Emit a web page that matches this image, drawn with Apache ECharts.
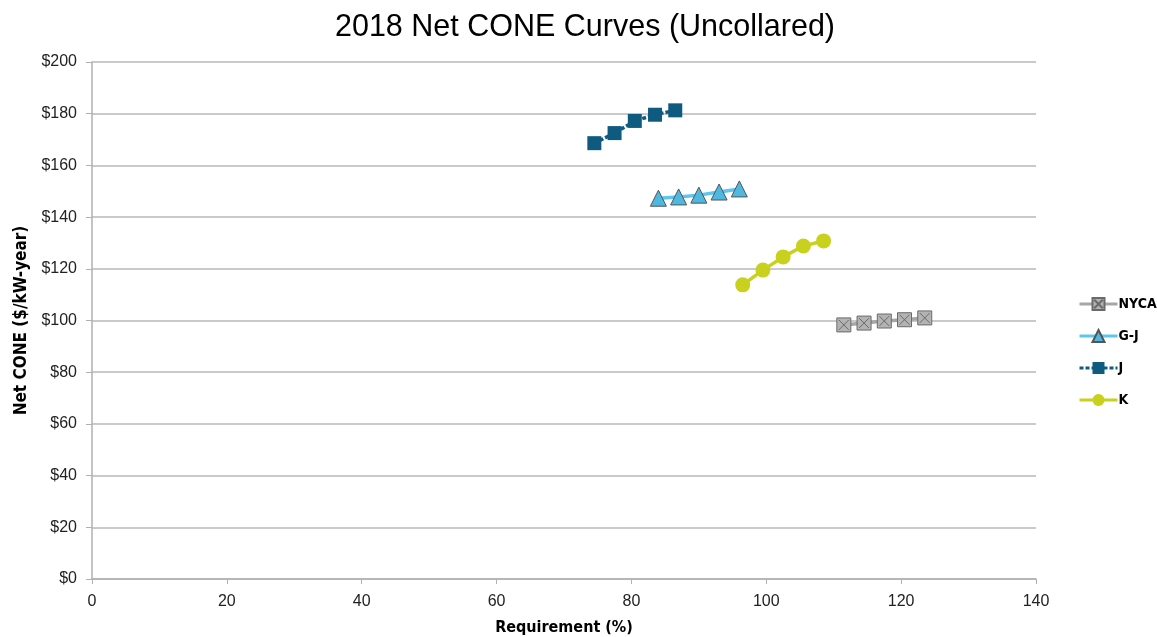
<!DOCTYPE html>
<html>
<head>
<meta charset="utf-8">
<script src="https://cdn.jsdelivr.net/npm/echarts@6/dist/echarts.min.js"></script>
<style>html,body{margin:0;padding:0;background:#fff}#c{width:1157px;height:637px}</style>
</head>
<body>
<div id="c"></div>
<script>
const xTicks = [0, 20, 40, 60, 80, 100, 120, 140];
const yTicks = [0, 20, 40, 60, 80, 100, 120, 140, 160, 180, 200];
const nycaX = [111.5, 114.5, 117.5, 120.5, 123.5];
const nycaY = [98.3, 99.0, 99.8, 100.3, 101.0];
const gjX = [84.0, 87.0, 90.0, 93.0, 96.0];
const gjY = [147.3, 147.8, 148.5, 149.7, 150.9];
const jX = [74.5, 77.5, 80.5, 83.5, 86.5];
const jY = [168.6, 172.5, 177.2, 179.6, 181.3];
const kX = [96.5, 99.5, 102.5, 105.5, 108.5];
const kY = [113.8, 119.5, 124.6, 128.8, 130.8];

const pts = (xs, ys) => xs.map((x, i) => [x, ys[i]]);
const font = 'Liberation Sans';
const narrow = '"DejaVu Sans Condensed", "Liberation Sans", sans-serif';

const chart = echarts.init(document.getElementById('c'), null, {renderer: 'canvas'});
chart.setOption({
  animation: false,
  backgroundColor: '#fff',
  title: {
    text: '2018 Net CONE Curves (Uncollared)',
    left: 580, top: 7, textAlign: 'center',
    textStyle: {fontFamily: font, fontSize: 30.5, fontWeight: 'normal', color: '#000'}
  },
  grid: {left: 92, right: 121, top: 62, bottom: 58, containLabel: false, outerBoundsMode: 'none'},
  legend: {
    orient: 'vertical', left: 1073, top: 292, itemGap: 18, itemWidth: 38, itemHeight: 15,
    lineStyle: {width: 3},
    textStyle: {fontFamily: narrow, fontSize: 14, fontWeight: 'bold', color: '#000', padding: [0,0,0,-4]},
    data: ['NYCA', 'G-J', 'J', 'K']
  },
  xAxis: {
    type: 'value', min: xTicks[0], max: xTicks[xTicks.length - 1], interval: 20,
    name: 'Requirement (%)', nameLocation: 'middle', nameGap: 41,
    nameTextStyle: {fontFamily: narrow, fontSize: 16, fontWeight: 'bold', color: '#000'},
    axisLine: {show: true, lineStyle: {color: '#b0b0b0', width: 1.5}},
    axisTick: {show: true, length: 5, lineStyle: {color: '#b0b0b0'}},
    axisLabel: {fontFamily: font, fontSize: 16, color: '#222', margin: 15},
    splitLine: {show: false}
  },
  yAxis: {
    type: 'value', min: yTicks[0], max: yTicks[yTicks.length - 1], interval: 20,
    name: 'Net CONE ($/kW-year)', nameLocation: 'middle', nameGap: 62,
    nameTextStyle: {fontFamily: narrow, fontSize: 17, fontWeight: 'bold', color: '#000'},
    axisLine: {show: true, lineStyle: {color: '#b0b0b0', width: 1.5}},
    axisTick: {show: true, length: 6, lineStyle: {color: '#b0b0b0'}},
    axisLabel: {fontFamily: font, fontSize: 16, color: '#222', margin: 15, formatter: v => '$' + v},
    splitLine: {show: true, lineStyle: {color: '#b8b8b8', width: 1.5}}
  },
  series: [
    {
      name: 'NYCA', type: 'line', data: pts(nycaX, nycaY),
      symbol: 'path://M0,0 L10,0 L10,10 L0,10 Z M1.5,1.5 L8.5,8.5 M8.5,1.5 L1.5,8.5', symbolSize: 14,
      lineStyle: {color: '#a6a6a6', width: 3.5},
      itemStyle: {color: '#b3b3b3', borderColor: '#6a6a6a', borderWidth: 1}
    },
    {
      name: 'G-J', type: 'line', data: pts(gjX, gjY),
      symbol: 'triangle', symbolSize: 16,
      lineStyle: {color: '#5ec5ec', width: 3.5},
      itemStyle: {color: '#4db8e0', borderColor: '#555', borderWidth: 1}
    },
    {
      name: 'J', type: 'line', data: pts(jX, jY),
      symbol: 'rect', symbolSize: 14,
      lineStyle: {color: '#0f5b80', width: 3.5, type: [4, 2]},
      itemStyle: {color: '#0f5b80', borderColor: '#0f5b80', borderWidth: 0}
    },
    {
      name: 'K', type: 'line', data: pts(kX, kY),
      symbol: 'circle', symbolSize: 15,
      lineStyle: {color: '#c8d21e', width: 3.5},
      itemStyle: {color: '#c8d21e', borderColor: '#c8d21e', borderWidth: 0}
    }
  ]
});
</script>
</body>
</html>
